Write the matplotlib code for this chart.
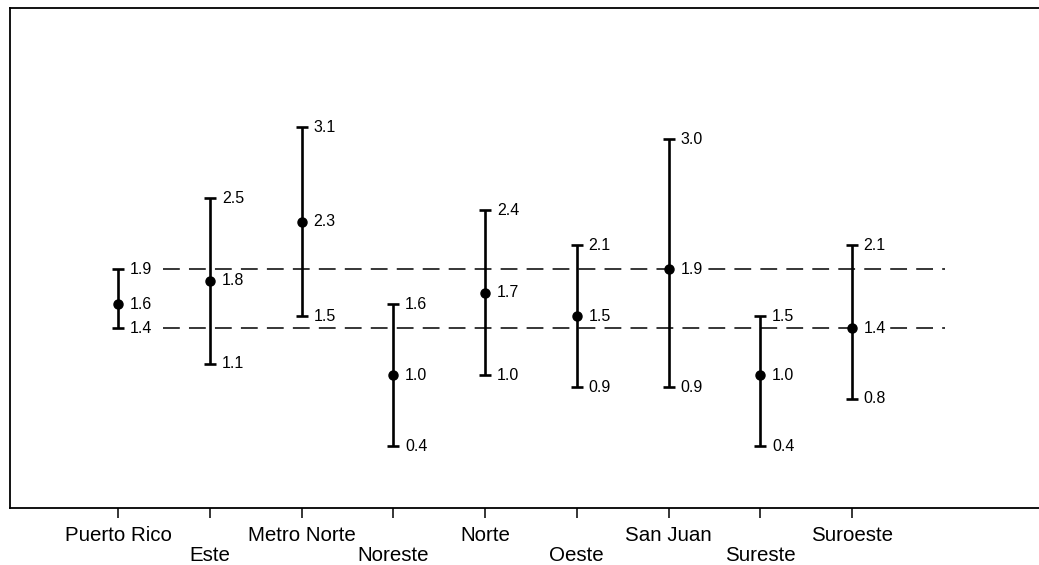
import matplotlib
matplotlib.use("Agg")
import matplotlib.pyplot as plt

plt.rcParams['font.family'] = ['Liberation Sans', 'DejaVu Sans']

regions = ['Puerto Rico', 'Este', 'Metro Norte', 'Noreste', 'Norte',
           'Oeste', 'San Juan', 'Sureste', 'Suroeste']
estimate = [1.6, 1.8, 2.3, 1.0, 1.7, 1.5, 1.9, 1.0, 1.4]
lower = [1.4, 1.1, 1.5, 0.4, 1.0, 0.9, 0.9, 0.4, 0.8]
upper = [1.9, 2.5, 3.1, 1.6, 2.4, 2.1, 3.0, 1.5, 2.1]
ref_lines = [1.4, 1.9]  # Puerto Rico interval

fig = plt.figure(figsize=(10.39, 5.65), dpi=100)
ax = fig.add_axes([0.0096, 0.1015, 0.9904, 0.8843])

x = list(range(len(regions)))
yerr = [[e - l for e, l in zip(estimate, lower)],
        [u - e for e, u in zip(estimate, upper)]]
ax.errorbar(x, estimate, yerr=yerr, fmt='o', color='black', ecolor='black',
            markersize=6.5, elinewidth=1.9, capsize=4, capthick=1.9, zorder=3)

for y in ref_lines:
    ax.hlines(y, 0.49, 9.02, colors='black', linestyles=(0, (11, 6)), linewidth=1.1, zorder=1)

for xi, e, l, u in zip(x, estimate, lower, upper):
    for v in (l, e, u):
        ax.annotate(f'{v:.1f}', (xi, v), xytext=(8.5, 0), textcoords='offset points',
                    ha='left', va='center', fontsize=11.5, zorder=4,
                    bbox=dict(facecolor='white', edgecolor='none', pad=0.5))

ax.set_xlim(-1.181, 10.04)
ax.set_ylim(-0.12, 4.11)
ax.set_yticks([])
ax.set_xticks(x)
ax.set_xticklabels(regions, fontsize=14.8)
ax.tick_params(axis='x', direction='out', length=7, width=1.1, pad=6)
for i, tick in enumerate(ax.xaxis.get_major_ticks()):
    if i % 2 == 1:
        tick.set_pad(6 + 14.5)

ax.spines['right'].set_visible(False)
for s in ('left', 'top', 'bottom'):
    ax.spines[s].set_linewidth(1.3)

fig.savefig('out.png', dpi=100)
